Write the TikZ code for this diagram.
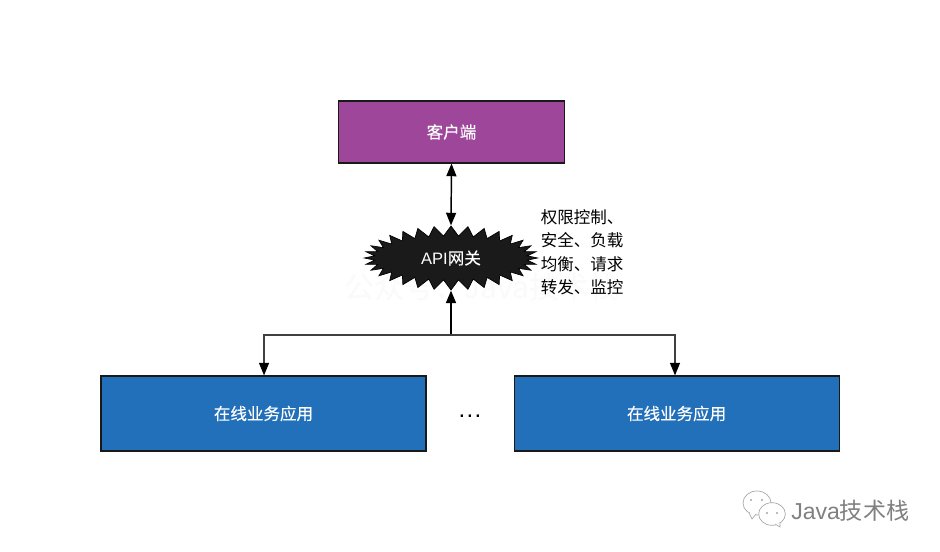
\documentclass[tikz,border=0pt]{standalone}
\usepackage{fontspec}
\setmainfont{Liberation Sans}
\newfontfamily\cjk{Noto Sans CJK SC}
\newfontfamily\cjkwhite[FakeBold=0.25]{Noto Sans CJK SC}
\usetikzlibrary{arrows.meta,shapes.symbols,shapes.geometric,positioning}
\definecolor{clientpurple}{HTML}{9E469A}
\definecolor{appblue}{HTML}{2270BA}
\definecolor{burstblack}{HTML}{1A1A1A}
\tikzset{
  box/.style={draw=black!90,line width=0.85pt,text=white,font=\cjkwhite\fontsize{12.4}{15}\selectfont,inner sep=0pt},
  link/.style={draw=black!75,line width=1.1pt,-{Triangle[length=9.5pt,width=7.5pt,color=black]}},
  bubble/.style={draw=black!35,line width=0.5pt,fill=white},
  eye/.style={circle,fill=black!35,minimum size=1.6pt,inner sep=0pt}
}
\begin{document}
\begin{tikzpicture}[x=0.75pt,y=-0.75pt]
\useasboundingbox (0,0) rectangle (940,552);
\fill[white] (0,0) rectangle (940,552);
% faint mark behind the gateway
\node[text=black!2,font=\cjk\fontsize{22.5}{26}\selectfont] (faint) at (482,287) {公众号：Java技术栈};
% boxes
\node[box,fill=clientpurple,minimum width=169pt,minimum height=46.5pt] (client) at (451.5,132) {\raisebox{-0.7pt}{客户端}};
\node[box,fill=appblue,minimum width=243.75pt,minimum height=56.25pt] (appleft) at (263.5,413.5) {\raisebox{-0.7pt}{在线业务应用}};
\node[box,fill=appblue,minimum width=243.75pt,minimum height=56.25pt] (appright) at (676.6,413.5) {\raisebox{-0.7pt}{在线业务应用}};
\node[font=\fontsize{18}{20}\selectfont] (dots) at (470,416) {.\kern1pt.\kern1pt.};
% gateway
\node[starburst,starburst points=32,starburst point height=7.5pt,random starburst=0,
  draw=black,fill=burstblack,line width=0.5pt,text=white,inner sep=0pt,
  minimum width=130pt,minimum height=48pt,font=\fontsize{12.4}{15}\selectfont] (gateway) at (451,258) {API{\cjkwhite 网关}};
\node[anchor=north west,align=left,inner sep=0pt,
  font=\cjk\fontsize{12.4}{17.6}\selectfont] (duties) at (540.5,209) {权限控制、\\安全、负载\\均衡、请求\\转发、监控};
% connectors
\coordinate (fork) at (451,335);
\draw[link,{Triangle[length=9.5pt,width=7.5pt,color=black]}-{Triangle[length=9.5pt,width=7.5pt,color=black]},draw=black] (client.south) -- (gateway.north);
\draw[link,draw=black,line width=1.4pt] (fork) -- (gateway.south);
\draw[link] (fork) -| ([xshift=0.4pt]appleft.north);
\draw[link] (fork) -| ([xshift=-1.2pt]appright.north);
% corner mark
\node[bubble,ellipse,minimum width=21pt,minimum height=18pt,inner sep=0pt] (bubbleback) at (757,503) {};
\node[bubble,ellipse,minimum width=20pt,minimum height=17pt,inner sep=0pt] (bubblefront) at (772,514) {};
\node[eye] (eyea) at (751,500) {};
\node[eye] (eyeb) at (762,500) {};
\node[eye] (eyec) at (767,513) {};
\node[eye] (eyed) at (777,513) {};
\draw[bubble] (749,513) -- (752,519) -- (756,514);
\draw[bubble] (775,524) -- (780,527) -- (780,523);
\node[text=black!50,font=\fontsize{17.3}{20}\selectfont,anchor=west,inner sep=0pt] (corner) at (791,511) {Java{\cjk 技术栈}};
\end{tikzpicture}
\end{document}
